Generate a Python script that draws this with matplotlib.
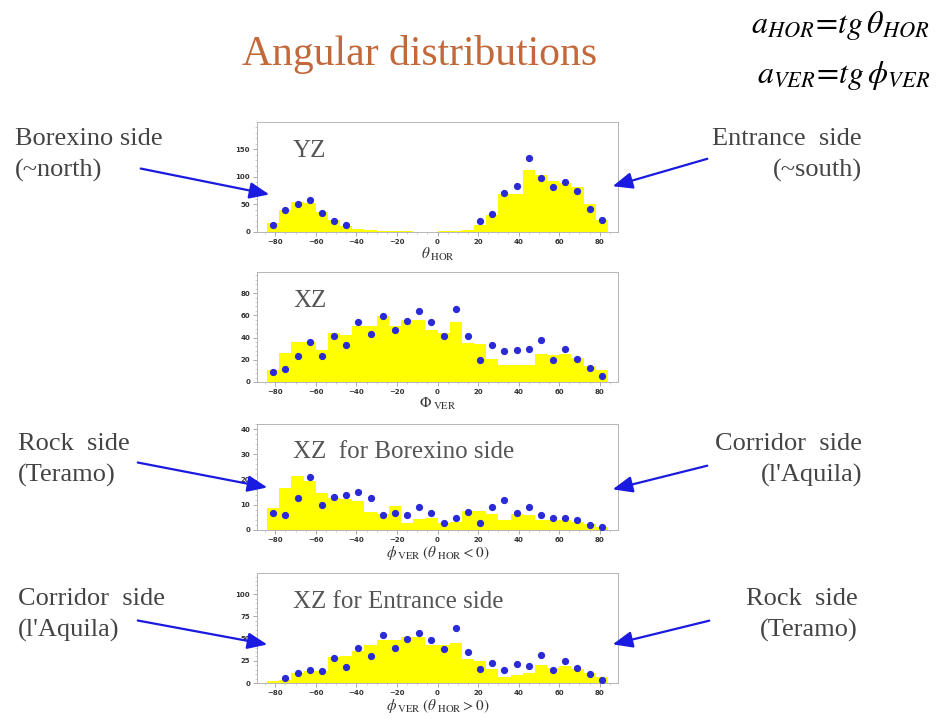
import numpy as np
import matplotlib
matplotlib.use("Agg")
from matplotlib import pyplot as plt
from matplotlib.ticker import MultipleLocator

plt.rcParams['mathtext.fontset'] = 'stix'

# bins of 6 degrees, -84 .. 84
edges = np.arange(-84, 85, 6)
centers = (edges[:-1] + edges[1:]) / 2

nan = np.nan
# YZ : theta_HOR
yz_hist = [16, 40, 54, 52, 37, 22, 10, 5, 3, 2, 2, 1, 0.5, 0.5, 1, 2, 4, 13, 31, 69, 69, 113, 104, 92, 89, 81, 51, 22]
yz_pts = [13, 39, 51, 57, 34, 20, 13, nan, nan, nan, nan, nan, nan, nan, nan, nan, nan,
          20, 32, 70, 84, 134, 98, 82, 90, 75, 42, 22]

# XZ : phi_VER
xz_hist = [11, 26, 36, 36, 29, 44, 42, 50, 50, 59, 50, 56, 56, 47, 44, 54, 35, 34, 21, 15, 15, 15, 25, 24, 25, 22, 14, 11]
xz_pts = [9, 12, 23, 36, 23, 41, 33, 54, 43, 59, 47, 55, 64, 54, 41, 66, 41, 20, 33, 28, 29, 30, 38, 20, 30, 21, 13, 5]

# XZ, theta_HOR < 0 (Borexino side)
bx_hist = [8.6, 16.7, 21.2, 19.6, 14.7, 12.8, 12.2, 11.5, 7, 6.4, 9.4, 2.6, 4.5, 4.9, 2.6, 3.2, 7.7, 7.7, 6.4, 3.8, 6.4, 5.8, 3.8, 3.8, 3.8, 3.2, 2.2, 1.3]
bx_pts = [6.8, 5.8, 12.8, 20.9, 10, 13.1, 13.7, 15, 12.8, 5.8, 6.8, 5.8, 9, 6.8, 2.8, 4.9, 7.1, 2.9, 9, 11.9, 6.8, 9, 5.8, 4.9, 4.9, 4.1, 1.9, 1.3]

# XZ, theta_HOR > 0 (Entrance side)
en_hist = [2, 3.8, 11.5, 13.5, 13.5, 29.6, 30.8, 36.5, 42.3, 48, 48, 52, 52, 42.3, 42.3, 45, 27, 25, 15.4, 6.5, 8.8, 11.5, 20.4, 17.3, 19.2, 15.4, 11.5, 6.5]
en_pts = [nan, 5.8, 11.5, 14.6, 13.5, 28, 18.5, 39.6, 30, 53.8, 39.6, 50, 56.5, 48, 38.5, 61.5, 34.6, 15.4, 23, 14.6, 21.9, 19.2, 31.5, 14.6, 25, 16.5, 9.6, 3.8]

W, H = 936, 719


def fx(x):
    return x / W


def fy(y):
    return 1 - y / H


fig = plt.figure(figsize=(9.36, 7.19), dpi=100)

panels = [
    (yz_hist, yz_pts, 122, 232, 199, 50, 'YZ', r'$\theta_{\;\mathrm{HOR}}$'),
    (xz_hist, xz_pts, 272, 382, 99, 20, 'XZ', r'$\Phi_{\;\mathrm{VER}}$'),
    (bx_hist, bx_pts, 424, 530, 42, 10, 'XZ  for Borexino side', r'$\phi_{\;\mathrm{VER}}\;(\theta_{\;\mathrm{HOR}} < 0)$'),
    (en_hist, en_pts, 573, 683, 124, 25, 'XZ for Entrance side', r'$\phi_{\;\mathrm{VER}}\;(\theta_{\;\mathrm{HOR}} > 0)$'),
]

for hist, pts, top, bot, ymax, ystep, label, xlab in panels:
    ax = fig.add_axes([fx(257), fy(bot), fx(618 - 257), (bot - top) / H])
    ax.stairs(hist, edges, fill=True, color='#ffff00')
    ax.plot(centers, pts, 'o', color='#2a2ad6', markersize=4.2, zorder=3)
    ax.set_xlim(-89, 89)
    ax.set_ylim(0, ymax)
    ax.xaxis.set_major_locator(MultipleLocator(20))
    ax.xaxis.set_minor_locator(MultipleLocator(5))
    ax.yaxis.set_major_locator(MultipleLocator(ystep))
    ax.yaxis.set_minor_locator(MultipleLocator(ystep / 5))
    ax.tick_params(labelsize=5, length=3, width=0.5, color='#888888', labelcolor='#333333', pad=2)
    ax.tick_params(which='minor', length=1.5, width=0.4, color='#aaaaaa')
    for lab in ax.get_xticklabels() + ax.get_yticklabels():
        lab.set_fontweight('bold')
    for s in ax.spines.values():
        s.set_color('#aaaaaa')
        s.set_linewidth(0.6)
    ax.text(0.1, 0.74, label, transform=ax.transAxes, fontsize=18, color='#555555',
            family='Liberation Serif', va='center', ha='left')
    ax.set_xlabel(xlab, fontsize=11, color='#333333', labelpad=1)

fig.text(fx(420), fy(55), 'Angular distributions', fontsize=30, color='#c2683a',
         family='Liberation Serif', ha='center', va='center')
fig.text(fx(930), fy(25), r'$a_{HOR}\!=\!tg\,\theta_{HOR}$', fontsize=23, ha='right', va='center')
fig.text(fx(930), fy(75), r'$a_{VER}\!=\!tg\,\phi_{VER}$', fontsize=23, ha='right', va='center')

notes = [
    ('Borexino side\n(~north)', 15, 155, 'left', (138, 168), (272, 195)),
    ('Entrance  side\n(~south)', 862, 155, 'right', (710, 158), (610, 187)),
    ('Rock  side\n(Teramo)', 18, 460, 'left', (135, 462), (270, 488)),
    ("Corridor  side\n(l'Aquila)", 862, 460, 'right', (710, 465), (610, 490)),
    ("Corridor  side\n(l'Aquila)", 18, 615, 'left', (135, 620), (270, 645)),
    ('Rock  side\n(Teramo)', 858, 615, 'right', (712, 620), (610, 645)),
]
for txt, tx, ty, ha, p0, p1 in notes:
    fig.text(fx(tx), fy(ty), txt, fontsize=19, color='#444444', family='Liberation Serif',
             ha=ha, va='center', linespacing=1.45)
    fig.add_artist(matplotlib.patches.FancyArrowPatch(
        (fx(p0[0]), fy(p0[1])), (fx(p1[0]), fy(p1[1])), transform=fig.transFigure,
        arrowstyle='-|>,head_length=12,head_width=5', color='#1a1ae0', linewidth=1.6))

fig.savefig('out.png', dpi=100)
